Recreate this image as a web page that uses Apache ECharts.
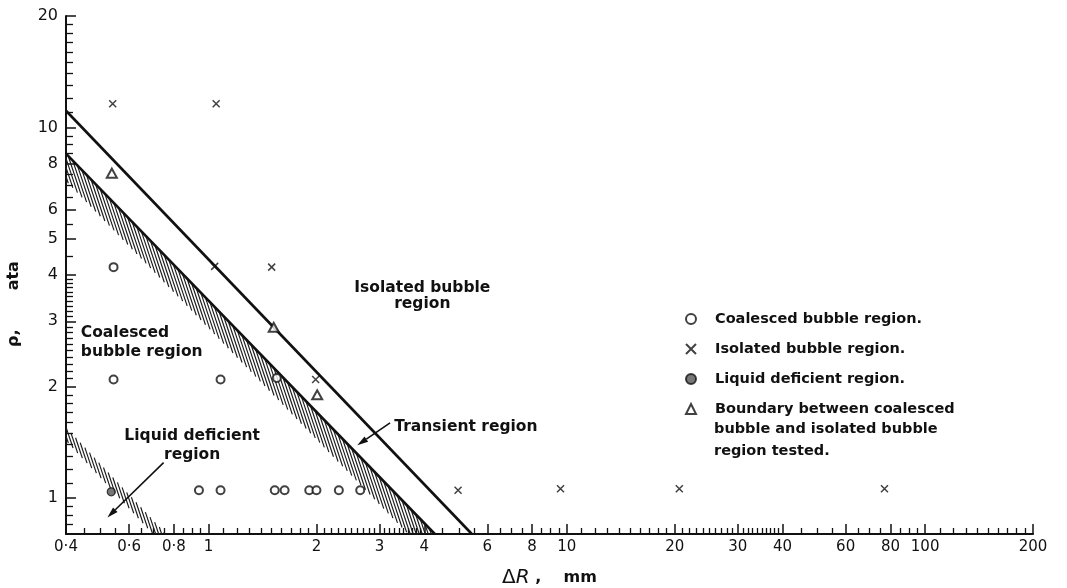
<!DOCTYPE html>
<html><head><meta charset="utf-8">
<script src="https://cdn.jsdelivr.net/npm/echarts@6/dist/echarts.min.js"></script>
<style>html,body{margin:0;padding:0;background:#fff}#c{width:1067px;height:588px}</style>
</head><body><div id="c"></div><script>
// ---------- data (ΔR in mm, p in ata) ----------
const coalesced = [[0.543,4.20],[0.543,2.09],[1.08,2.09],[1.55,2.11],[0.94,1.05],[1.08,1.05],[1.53,1.05],[1.63,1.05],[1.91,1.05],[2.0,1.05],[2.31,1.05],[2.65,1.05]];
const isolated = [[0.54,11.6],[1.05,11.6],[1.04,4.22],[1.50,4.20],[1.99,2.09],[4.97,1.05],[9.6,1.06],[20.6,1.06],[77,1.06]];
const liquid = [[0.535,1.04]];
const boundary = [[0.537,7.53],[1.52,2.89],[2.01,1.90]];
const upperLine = [[0.4,11.1],[5.43,0.8]];
const lowerLine = [[0.4,8.5],[4.28,0.8]];
const transientHatch = [[0.4,8.5,4.28,0.8,3.61,0.8,0.4,7.18]];
const liquidHatch = [[0.4,1.55,0.76,0.8,0.70,0.8,0.4,1.43]];
const transientArrow = [[3.21,1.595,2.60,1.388]];
const liquidArrow = [[0.749,1.246,0.522,0.887]];
const regionTexts = ['Isolated bubble\nregion','Coalesced\nbubble region','Liquid deficient\nregion','Transient region'];
const regionAnchors = [[3.95,3.52],[0.44,2.63],[0.90,1.39],[3.30,1.554]];
const xMajorTicks = [0.4,0.6,0.8,1,2,3,4,6,8,10,20,30,40,60,80,100,200];
const xTickLabels = ['0·4','0·6','0·8','1','2','3','4','6','8','10','20','30','40','60','80','100','200'];
const yMajorTicks = [1,2,3,4,5,6,8,10,20];
const yTickLabels = ['1','2','3','4','5','6','8','10','20'];
const xMinorRanges = [[0.45,1,0.05],[1.1,4,0.1],[4.5,10,0.5],[11,20,1],[21,40,1],[45,100,5],[110,200,10]];
const yMinorRanges = [[0.85,1,0.05],[1.1,4,0.1],[4.5,10,0.5],[11,20,1]];
const names = ['Coalesced bubble region.','Isolated bubble region.','Liquid deficient region.','Boundary between coalesced\nbubble and isolated bubble\nregion tested.'];

function expand(ranges, majors){
  const out=[];
  ranges.forEach(([a,b,s])=>{ for(let v=a; v<=b+1e-9; v+=s){ const r=Math.round(v*1000)/1000; if(!majors.some(m=>Math.abs(m-r)<1e-6)) out.push(r);} });
  return out;
}
const xMinor = expand(xMinorRanges, xMajorTicks);
const yMinor = expand(yMinorRanges, yMajorTicks);
const FONT = '"DejaVu Sans", sans-serif';
const INK = '#111';

function labelFor(v, ticks, labels){
  const i = ticks.findIndex(t=>Math.abs(t-v)/t<1e-6);
  return i>=0 ? labels[i] : '';
}

// hatch strokes clipped to a band quadrilateral given in data coords
function hatchItem(p, api){
  const P=[0,1,2,3].map(i=>api.coord([api.value(2*i),api.value(2*i+1)]));
  const k=3, step=3.0;
  const cs=P.map(q=>q[0]-q[1]/k);
  const cmin=Math.min(...cs), cmax=Math.max(...cs);
  const children=[];
  for(let c=cmin+step/2; c<cmax; c+=step){
    const hits=[];
    for(let i=0;i<4;i++){
      const E1=P[i], E2=P[(i+1)%4];
      const dx=E2[0]-E1[0], dy=E2[1]-E1[1];
      const den=dx-dy/k; if(Math.abs(den)<1e-9) continue;
      const t=(c-(E1[0]-E1[1]/k))/den;
      if(t>=-1e-9 && t<=1+1e-9) hits.push([E1[0]+t*dx, E1[1]+t*dy]);
    }
    if(hits.length>=2){
      hits.sort((a,b)=>a[1]-b[1]);
      const a=hits[0], b=hits[hits.length-1];
      children.push({type:'line', shape:{x1:a[0],y1:a[1],x2:b[0],y2:b[1]}, style:{stroke:'#1a1a1a', lineWidth:1.15}});
    }
  }
  return {type:'group', children};
}

const chart = echarts.init(document.getElementById('c'), null, {renderer:'canvas'});
const baseX = {type:'log', logBase:10, min:0.4, max:200, position:'bottom', gridIndex:0, splitLine:{show:false}};
const baseY = {type:'log', logBase:10, min:0.8, max:20, position:'left', gridIndex:0, splitLine:{show:false}};

chart.setOption({
  animation:false,
  backgroundColor:'#fff',
  grid:{left:66, top:16, width:967, height:518, outerBoundsMode:'none', containLabel:false},
  xAxis:[
    Object.assign({}, baseX, {
      axisLine:{show:true, lineStyle:{color:INK, width:2}},
      axisTick:{show:true, inside:true, length:10, customValues:xMajorTicks, lineStyle:{color:INK, width:1.5}},
      axisLabel:{show:true, customValues:xMajorTicks, margin:6, color:INK, fontFamily:FONT, fontSize:15,
        formatter:v=>labelFor(v,xMajorTicks,xTickLabels)},
      name:'{d|Δ}{r|R}{c| ,    mm}', nameLocation:'middle', nameGap:34,
      nameTextStyle:{color:INK, rich:{d:{fontFamily:FONT,fontSize:20,color:INK}, r:{fontFamily:FONT,fontSize:20,fontStyle:'italic',color:INK}, c:{fontFamily:FONT,fontSize:16,fontWeight:'bold',color:INK}}}
    }),
    Object.assign({}, baseX, {
      axisLine:{show:false}, axisLabel:{show:false},
      axisTick:{show:true, inside:true, length:6, customValues:xMinor, lineStyle:{color:INK, width:1.3}}
    })
  ],
  yAxis:[
    Object.assign({}, baseY, {
      axisLine:{show:true, lineStyle:{color:INK, width:2}},
      axisTick:{show:true, inside:true, length:10, customValues:yMajorTicks, lineStyle:{color:INK, width:1.5}},
      axisLabel:{show:true, customValues:yMajorTicks, margin:8, color:INK, fontFamily:FONT, fontSize:16,
        formatter:v=>labelFor(v,yMajorTicks,yTickLabels)},
      name:'ρ,       ata', nameLocation:'middle', nameRotate:90, nameGap:44,
      nameTextStyle:{color:INK, fontFamily:FONT, fontSize:16, fontWeight:'bold', padding:[0,58,0,0]}
    }),
    Object.assign({}, baseY, {
      axisLine:{show:false}, axisLabel:{show:false},
      axisTick:{show:true, inside:true, length:7, customValues:yMinor, lineStyle:{color:INK, width:1.3}}
    })
  ],
  legend:{
    orient:'vertical', left:680, top:305, itemWidth:10, itemHeight:10, itemGap:12,
    data:names, formatter:n=>n.split('\n')[0],
    textStyle:{color:INK, fontFamily:FONT, fontSize:14.5, fontWeight:'bold', lineHeight:18, padding:[0,0,0,14]}
  },
  graphic:[{type:'text', left:714, top:418, style:{text:'bubble and isolated bubble\nregion tested.', fill:INK, font:'bold 14.5px '+FONT, lineHeight:22}}],
  series:[
    {type:'custom', name:'hatch-transient', data:transientHatch, encode:{x:0,y:1}, silent:true, z:1, renderItem:hatchItem},
    {type:'custom', name:'hatch-liquid', data:liquidHatch, encode:{x:0,y:1}, silent:true, z:1, renderItem:hatchItem},
    {type:'line', name:'upper', data:upperLine, symbol:'none', lineStyle:{color:INK, width:2.6}, z:2},
    {type:'line', name:'lower', data:lowerLine, symbol:'none', lineStyle:{color:INK, width:2.6}, z:2},
    ...[transientArrow, liquidArrow].map(arr=>({type:'custom', data:arr, encode:{x:0,y:1}, silent:true, z:3,
      renderItem:(p,api)=>{
        const a=api.coord([api.value(0),api.value(1)]), b=api.coord([api.value(2),api.value(3)]);
        const dx=b[0]-a[0], dy=b[1]-a[1], L=Math.hypot(dx,dy), ux=dx/L, uy=dy/L, hl=11, hw=3.2;
        const base=[b[0]-ux*hl, b[1]-uy*hl];
        return {type:'group', children:[
          {type:'line', shape:{x1:a[0],y1:a[1],x2:base[0],y2:base[1]}, style:{stroke:INK, lineWidth:1.6}},
          {type:'polygon', shape:{points:[b,[base[0]-uy*hw,base[1]+ux*hw],[base[0]+uy*hw,base[1]-ux*hw]]}, style:{fill:INK}}
        ]};
      }})),
    {type:'custom', data:regionAnchors, encode:{x:0,y:1}, silent:true, z:3,
      renderItem:(p,api)=>{
        const c=api.coord([api.value(0),api.value(1)]);
        const t=regionTexts[p.dataIndex];
        const left = p.dataIndex===1 || p.dataIndex===3;
        return {type:'text', x:c[0], y:c[1], style:{text:t, fill:INK, font:'bold 15.5px '+FONT,
          align:left?'left':'center', verticalAlign:'middle', lineHeight:p.dataIndex===0?16:19}};
      }},
    {type:'scatter', name:names[0], data:coalesced, symbol:'emptyCircle', symbolSize:8, itemStyle:{color:INK, borderColor:INK, borderWidth:1.3}, z:4},
    {type:'scatter', name:names[1], data:isolated, symbol:'path://M0,0L10,10M10,0L0,10', symbolSize:7, itemStyle:{color:'transparent', borderColor:INK, borderWidth:1.5}, z:4},
    {type:'scatter', name:names[2], data:liquid, symbol:'circle', symbolSize:8, itemStyle:{color:'#555', borderColor:INK, borderWidth:1.2}, z:4},
    {type:'scatter', name:names[3], data:boundary, symbol:'emptyTriangle', symbolSize:[10,9], itemStyle:{color:INK, borderColor:INK, borderWidth:1.3}, z:4}
  ]
});
</script></body></html>
